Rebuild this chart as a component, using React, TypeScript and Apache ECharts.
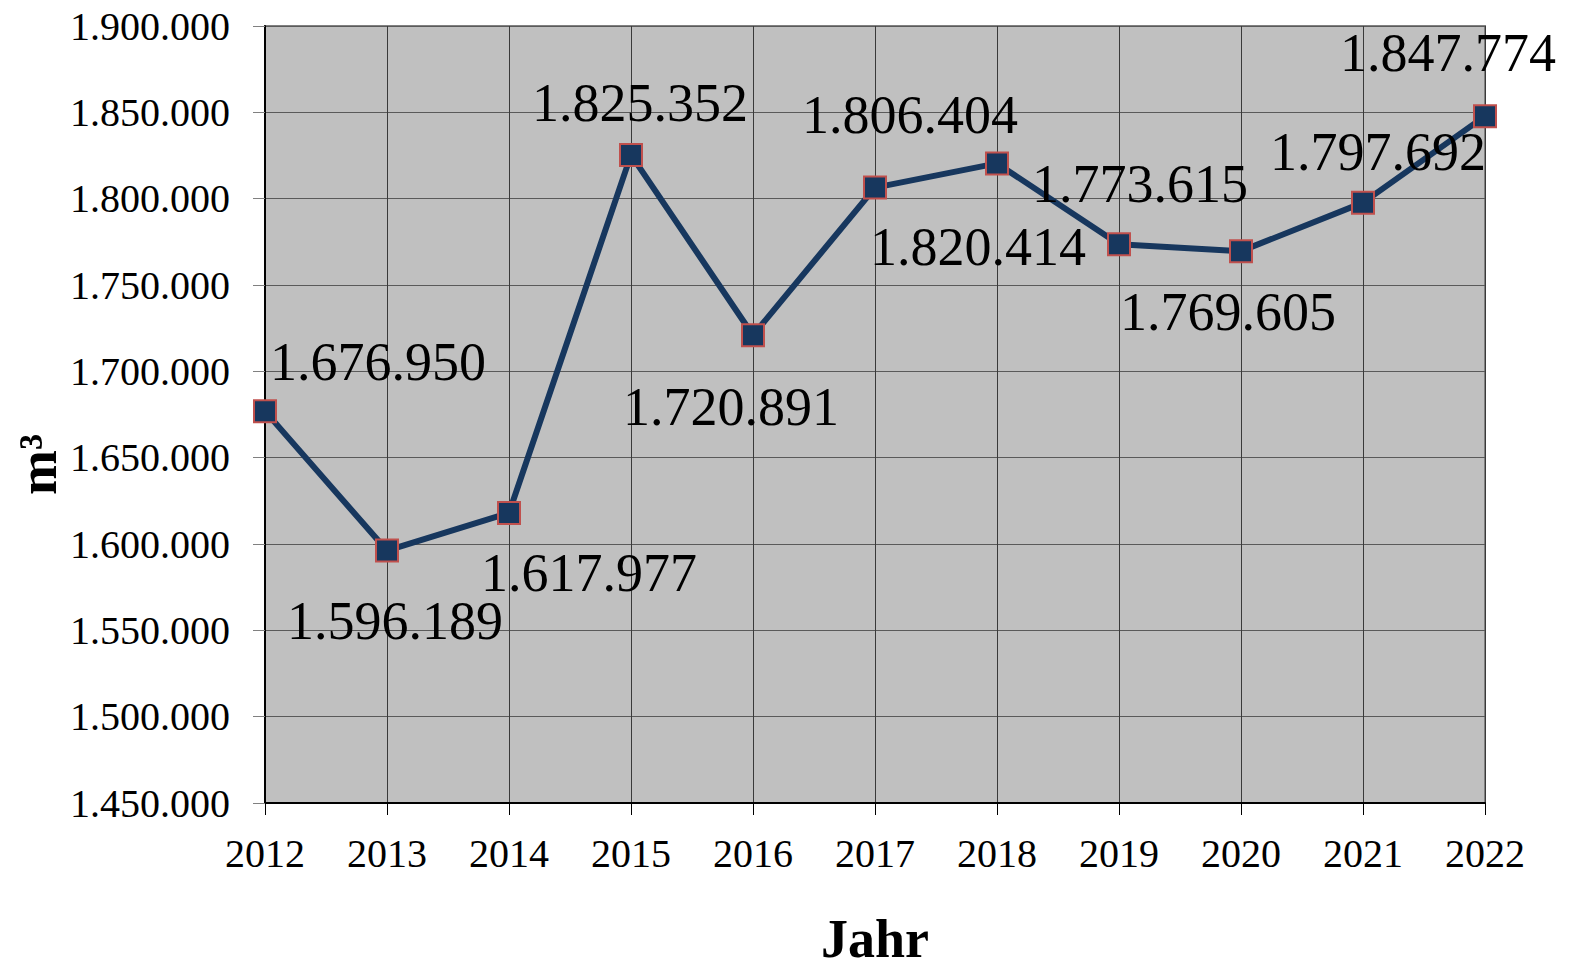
import React, { useEffect, useRef } from "react";
import * as echarts from "echarts";

const years = ["2012", "2013", "2014", "2015", "2016", "2017", "2018", "2019", "2020", "2021", "2022"];
const volumes = [1676950, 1596189, 1617977, 1825352, 1720891, 1806404, 1820414, 1773615, 1769605, 1797692, 1847774];
const labelOffsets: [number, number][] = [
  [113, -49], [8, 70], [80, 60], [9, -52], [-22, 72], [35, -73],
  [-19, 84], [21, -60], [-13, 61], [15, -51], [-37, -63],
];

const FONT = '"Liberation Serif", "Times New Roman", serif';

function fmt(v: number): string {
  return String(Math.round(v)).replace(/\B(?=(\d{3})+(?!\d))/g, ".");
}

export default function App() {
  const ref = useRef<HTMLDivElement>(null);
  useEffect(() => {
    if (!ref.current) return;
    document.body.style.margin = "0";
    document.body.style.overflow = "hidden";
    const chart = echarts.init(ref.current, undefined, { renderer: "svg" });
    chart.setOption({
      animation: false,
      backgroundColor: "#ffffff",
      grid: {
        left: 265,
        right: 89,
        top: 26,
        bottom: 166,
        outerBoundsMode: "none",
        containLabel: false,
        show: true,
        backgroundColor: "#c0c0c0",
        borderColor: "#808080",
        borderWidth: 2,
      },
      xAxis: {
        type: "category",
        data: years,
        boundaryGap: false,
        name: "Jahr",
        nameLocation: "middle",
        nameGap: 116,
        nameMoveOverlap: false,
        nameTextStyle: { fontFamily: FONT, fontSize: 54, lineHeight: 40, fontWeight: "bold", color: "#000" },
        axisLine: { show: true, lineStyle: { color: "#000", width: 2 } },
        axisTick: { show: true, length: 12, lineStyle: { color: "#000", width: 1 } },
        axisLabel: { fontFamily: FONT, fontSize: 40, color: "#000", margin: 30 },
        splitLine: { show: true, lineStyle: { color: "#3a3a3a", width: 1 } },
      },
      yAxis: {
        type: "value",
        min: 1450000,
        max: 1900000,
        interval: 50000,
        name: "m³",
        nameLocation: "middle",
        nameRotate: 90,
        nameGap: 200,
        nameMoveOverlap: false,
        nameTextStyle: { fontFamily: FONT, fontSize: 54, fontWeight: "bold", color: "#000", padding: [0, 100, 0, 0] },
        axisLine: { show: true, lineStyle: { color: "#000", width: 2 } },
        axisTick: { show: true, length: 12, lineStyle: { color: "#808080", width: 1 } },
        axisLabel: { fontFamily: FONT, fontSize: 40, lineHeight: 34, color: "#000", margin: 35, formatter: (v: number) => fmt(v) },
        splitLine: { show: true, lineStyle: { color: "#5a5a5a", width: 1 } },
      },
      series: [
        {
          type: "line",
          data: volumes.map((v, i) => ({
            value: v,
            label: { offset: labelOffsets[i] },
          })),
          symbol: "rect",
          symbolSize: 22,
          lineStyle: { color: "#17375e", width: 6 },
          itemStyle: { color: "#17375e", borderColor: "#c0504d", borderWidth: 2 },
          label: {
            show: true,
            position: "inside",
            fontFamily: FONT,
            fontSize: 54,
            color: "#000",
            formatter: (p: any) => fmt(p.value),
          },
          z: 5,
        },
      ],
    });
    return () => chart.dispose();
  }, []);
  return <div ref={ref} style={{ width: 1574, height: 969 }} />;
}
